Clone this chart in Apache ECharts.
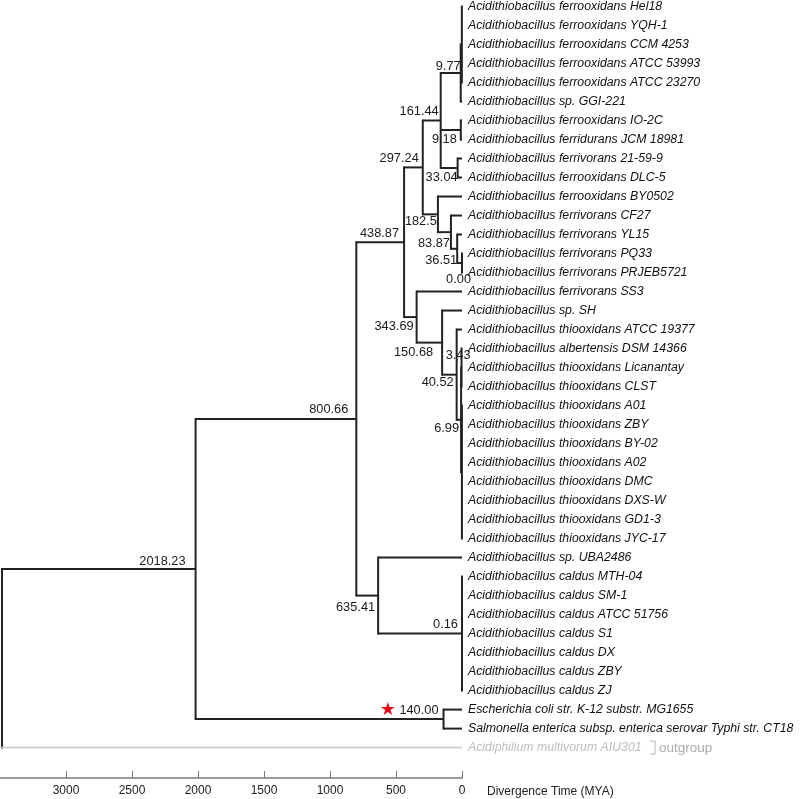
<!DOCTYPE html>
<html>
<head>
<meta charset="utf-8">
<script src="https://cdn.jsdelivr.net/npm/echarts@6/dist/echarts.min.js"></script>
<style>
  html, body { margin: 0; padding: 0; background: #fff; }
  #chart { width: 800px; height: 799px; }
</style>
</head>
<body>
<div id="chart"></div>
<script>
// tips, top to bottom (row index = position)
const leaves = [
  "Acidithiobacillus ferrooxidans Hel18",
  "Acidithiobacillus ferrooxidans YQH-1",
  "Acidithiobacillus ferrooxidans CCM 4253",
  "Acidithiobacillus ferrooxidans ATCC 53993",
  "Acidithiobacillus ferrooxidans ATCC 23270",
  "Acidithiobacillus sp. GGI-221",
  "Acidithiobacillus ferrooxidans IO-2C",
  "Acidithiobacillus ferridurans JCM 18981",
  "Acidithiobacillus ferrivorans 21-59-9",
  "Acidithiobacillus ferrooxidans DLC-5",
  "Acidithiobacillus ferrooxidans BY0502",
  "Acidithiobacillus ferrivorans CF27",
  "Acidithiobacillus ferrivorans YL15",
  "Acidithiobacillus ferrivorans PQ33",
  "Acidithiobacillus ferrivorans PRJEB5721",
  "Acidithiobacillus ferrivorans SS3",
  "Acidithiobacillus sp. SH",
  "Acidithiobacillus thiooxidans ATCC 19377",
  "Acidithiobacillus albertensis DSM 14366",
  "Acidithiobacillus thiooxidans Licanantay",
  "Acidithiobacillus thiooxidans CLST",
  "Acidithiobacillus thiooxidans A01",
  "Acidithiobacillus thiooxidans ZBY",
  "Acidithiobacillus thiooxidans BY-02",
  "Acidithiobacillus thiooxidans A02",
  "Acidithiobacillus thiooxidans DMC",
  "Acidithiobacillus thiooxidans DXS-W",
  "Acidithiobacillus thiooxidans GD1-3",
  "Acidithiobacillus thiooxidans JYC-17",
  "Acidithiobacillus sp. UBA2486",
  "Acidithiobacillus caldus MTH-04",
  "Acidithiobacillus caldus SM-1",
  "Acidithiobacillus caldus ATCC 51756",
  "Acidithiobacillus caldus S1",
  "Acidithiobacillus caldus DX",
  "Acidithiobacillus caldus ZBY",
  "Acidithiobacillus caldus ZJ",
  "Escherichia coli str. K-12 substr. MG1655",
  "Salmonella enterica subsp. enterica serovar Typhi str. CT18",
  "Acidiphilium multivorum AIU301"
];
const outgroup = [39];

// internal nodes: divergence time (MYA)
const nodeAge = {
  root: 3485, n2018: 2018.23, n800: 800.66, n635: 635.41, n016: 0.16, n140: 140.00,
  n438: 438.87, n297: 297.24, n161: 161.44, n977: 9.77, nFe: 1.2, n918: 9.18, n3304: 33.04,
  n1825: 182.5, n8387: 83.87, n3651: 36.51, n000: 0.00,
  n343: 343.69, n150: 150.68, n4052: 40.52, n699: 6.99, n343b: 3.43, nTh: 0.6
};
// children: leaf row index or node id
const nodeKids = {
  root: ["n2018", 39],
  n2018: ["n800", "n140"],
  n800: ["n438", "n635"],
  n635: [29, "n016"],
  n016: [30, 31, 32, 33, 34, 35, 36],
  n140: [37, 38],
  n438: ["n297", "n343"],
  n297: ["n161", "n1825"],
  n161: ["n977", "n918", "n3304"],
  n977: ["nFe", 5],
  nFe: [0, 1, 2, 3, 4],
  n918: [6, 7],
  n3304: [8, 9],
  n1825: [10, "n8387"],
  n8387: [11, "n3651"],
  n3651: [12, "n000"],
  n000: [13, 14],
  n343: [15, "n150"],
  n150: [16, "n4052"],
  n4052: [17, "n699"],
  n699: ["n343b", "nTh"],
  n343b: [18, 19, 20],
  nTh: [21, 22, 23, 24, 25, 26, 27, 28]
};
// printed node ages
const nodeText = {
  n2018: "2018.23", n800: "800.66", n635: "635.41", n016: "0.16", n140: "140.00",
  n438: "438.87", n297: "297.24", n161: "161.44", n977: "9.77", n918: "9.18", n3304: "33.04",
  n1825: "182.5", n8387: "83.87", n3651: "36.51", n000: "0.00",
  n343: "343.69", n150: "150.68", n4052: "40.52", n699: "6.99", n343b: "3.43"
};
const starNodes = ["n140"];

const tickValues = [0, 500, 1000, 1500, 2000, 2500, 3000];

// label offsets in px: [dx of right edge, dy of centre]
const labelPos = {
  n2018: [-10, -8], n800: [-8, -9], n635: [-3, 12], n016: [-4, -9], n140: [-5, -9],
  n438: [-5, -9], n297: [-4, -8.5], n161: [-2, -9], n977: [0, -7], n918: [-4, 9], n3304: [0, 9.5],
  n1825: [-1, 7], n8387: [-1, 11], n3651: [0, 12], n000: [9, 16],
  n343: [-3, 9], n150: [-9, 9.5], n4052: [-3, 8], n699: [-2, 9], n343b: [9, -12]
};

const FONT = "'Liberation Sans', Arial, sans-serif";
const LINE = "#222";
const GREY = "#c6c6c6";

function ageOf(id) { return typeof id === "number" ? 0 : nodeAge[id]; }
function rowOf(id) {
  if (typeof id === "number") return id;
  const k = nodeKids[id];
  return (rowOf(k[0]) + rowOf(k[k.length - 1])) / 2;
}

const vertData = [], edgeData = [], labelData = [], labelIds = [];
Object.keys(nodeKids).forEach(id => {
  const k = nodeKids[id];
  vertData.push([nodeAge[id], rowOf(k[0]), rowOf(k[k.length - 1])]);
  k.forEach(c => {
    edgeData.push([nodeAge[id], ageOf(c), rowOf(c), outgroup.includes(c) ? 1 : 0]);
  });
  if (nodeText[id] !== undefined) {
    labelData.push([nodeAge[id], rowOf(id)]);
    labelIds.push(id);
  }
});
const leafData = leaves.map((n, i) => [0, i]);

const chart = echarts.init(document.getElementById("chart"));
chart.setOption({
  animation: false,
  grid: { left: 0, right: 338, top: 6.5, bottom: 21 },
  xAxis: {
    type: "value",
    inverse: true,
    min: 0,
    max: 3500,
    interval: 500,
    name: "Divergence Time (MYA)",
    nameLocation: "start",
    nameGap: 25,
    nameTextStyle: { color: "#222", fontSize: 12, fontFamily: FONT, verticalAlign: "top", padding: [8, 0, 0, 0] },
    axisLine: { show: true, onZero: false, lineStyle: { color: "#9a9a9a", width: 2 } },
    axisTick: { show: true, inside: true, length: 7, customValues: tickValues, lineStyle: { color: "#777", width: 1 } },
    axisLabel: { color: "#222", fontSize: 12, fontFamily: FONT, margin: 7, customValues: tickValues,
      formatter: v => String(v) },
    splitLine: { show: false }
  },
  yAxis: { type: "value", inverse: true, min: 0, max: 40.6, show: false },
  series: [
    {
      type: "custom",
      silent: true,
      data: vertData,
      renderItem: (params, api) => {
        const a = api.coord([api.value(0), api.value(1)]);
        const b = api.coord([api.value(0), api.value(2)]);
        return { type: "line", shape: { x1: a[0], y1: a[1], x2: b[0], y2: b[1] },
          style: { stroke: LINE, lineWidth: 2, lineCap: "square" } };
      }
    },
    {
      type: "custom",
      silent: true,
      data: edgeData,
      renderItem: (params, api) => {
        const a = api.coord([api.value(0), api.value(2)]);
        const b = api.coord([api.value(1), api.value(2)]);
        const out = api.value(3) === 1;
        return { type: "line", shape: { x1: out ? a[0] - 2 : a[0], y1: a[1], x2: b[0], y2: b[1] },
          style: { stroke: out ? GREY : LINE, lineWidth: out ? 1.5 : 2 } };
      }
    },
    {
      type: "custom",
      silent: true,
      data: labelData,
      renderItem: (params, api) => {
        const p = api.coord([api.value(0), api.value(1)]);
        const id = labelIds[params.dataIndex];
        const off = labelPos[id];
        const star = starNodes.includes(id);
        return { type: "text", x: p[0] + off[0], y: p[1] + off[1],
          style: {
            text: star ? "{s|★} " + nodeText[id] : nodeText[id],
            align: "right", verticalAlign: "middle",
            font: "12.8px " + FONT, fill: "#1a1a1a",
            rich: { s: { fill: "#e60a17", fontSize: 18, fontFamily: "DejaVu Sans" } }
          } };
      }
    },
    {
      type: "custom",
      silent: true,
      data: leafData,
      renderItem: (params, api) => {
        const p = api.coord([api.value(0), api.value(1)]);
        const i = params.dataIndex;
        const out = outgroup.includes(i);
        const kids = [{ type: "text", x: p[0] + 6, y: p[1],
          style: { text: leaves[i], align: "left", verticalAlign: "middle",
            font: "italic 12.3px " + FONT, fill: out ? "#bdbdbd" : "#111" } }];
        if (out) {
          const bx = p[0] + 193;
          kids.push({ type: "polyline", shape: { points: [[bx - 5, p[1] - 6.5], [bx, p[1] - 6.5], [bx, p[1] + 6.5], [bx - 5, p[1] + 6.5]] },
            style: { stroke: "#b5b5b5", lineWidth: 1, fill: null } });
          kids.push({ type: "text", x: bx + 4, y: p[1] + 1,
            style: { text: "outgroup", align: "left", verticalAlign: "middle",
              font: "13.5px " + FONT, fill: "#aaaaaa" } });
        }
        return { type: "group", children: kids };
      }
    }
  ]
});
</script>
</body>
</html>
